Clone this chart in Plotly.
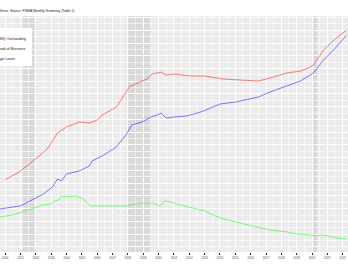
import plotly.graph_objects as go

# ---- data ($ billions) ----
total_dates = ["2000-01","2000-02","2000-12","2001-11","2002-10","2003-06","2004-01","2004-11",
               "2005-07","2006-01","2006-05","2007-04","2007-09","2008-02","2008-10","2009-04",
               "2009-08","2010-03","2010-07","2011-01","2012-02","2013-01","2014-04","2015-05",
               "2016-07","2017-07","2018-05","2019-04","2019-10","2020-02","2020-10","2021-08","2022-04"]
total_vals = [1313,1333,1470,1686,1921,2234,2352,2450,2430,2489,2587,2744,2940,3136,3234,3293,
              3391,3430,3371,3391,3352,3352,3293,3273,3254,3332,3410,3450,3508,3567,3861,4096,4253]

mbs_dates = ["1999-06","1999-09","2001-01","2001-11","2002-07","2003-02","2003-06","2003-09","2004-01",
             "2004-11","2005-07","2005-09","2006-05","2007-04","2007-12","2008-04","2008-12","2009-07",
             "2009-12","2010-03","2010-07","2011-01","2011-11","2012-10","2014-01","2015-01","2016-07",
             "2017-04","2018-05","2019-04","2020-02","2020-10","2021-08","2022-04"]
mbs_vals = [725,745,804,941,1039,1176,1333,1294,1431,1490,1588,1686,1784,1960,2215,2391,2450,2548,
            2587,2626,2528,2548,2568,2646,2803,2842,2940,3038,3156,3254,3410,3665,3920,4155]

loan_dates = ["1999-06","1999-09","2000-07","2001-04","2001-11","2002-07","2003-01","2003-04","2003-07",
              "2003-09","2004-01","2004-09","2005-02","2005-08","2006-05","2007-04","2008-01","2008-09",
              "2009-08","2010-02","2010-06","2011-01","2011-09","2013-01","2013-11","2015-01","2016-03",
              "2017-04","2018-05","2019-01","2019-12","2020-04","2020-09","2021-02","2021-08","2022-04"]
loan_vals = [568,588,627,706,764,823,843,902,921,1000,980,1000,941,804,804,804,804,862,862,804,902,
             862,804,706,588,490,412,333,294,255,235,216,235,216,176,157]

legend_labels = ["Fannie Mae Mortgage-Backed Securities (MBS) Outstanding",
                 "Fannie Mae Total Book of Business",
                 "Fannie Mae Portfolio: Mortgage Loans"]
recessions = [("2001-03-01","2001-11-30"),("2007-12-01","2009-06-30"),("2020-02-01","2020-04-30")]
title_text = "Fannie Mae Book of Business, $ Millions; Source: FNMA Monthly Summary (Table 1)"

fig = go.Figure()
fig.add_trace(go.Scatter(x=mbs_dates, y=mbs_vals, mode="lines",
                         line=dict(color="rgba(0,0,255,0.5)", width=1), name=legend_labels[0]))
fig.add_trace(go.Scatter(x=total_dates, y=total_vals, mode="lines",
                         line=dict(color="rgba(255,0,0,0.5)", width=1), name=legend_labels[1]))
fig.add_trace(go.Scatter(x=loan_dates, y=loan_vals, mode="lines",
                         line=dict(color="rgba(0,255,0,0.5)", width=1), name=legend_labels[2]))

for a, b in recessions:
    fig.add_shape(type="rect", xref="x", yref="paper", x0=a, x1=b, y0=0, y1=1,
                  fillcolor="rgba(128,128,128,0.17)", line=dict(width=0), layer="between")

# manual legend (left part cut off as in the reference)
fig.add_shape(type="rect", xref="paper", yref="paper", x0=-0.3, x1=32/348,
              y0=(252-66)/236, y1=(252-28)/236, fillcolor="white", line=dict(width=0), layer="above")
for i, lab in enumerate(legend_labels):
    fig.add_annotation(xref="paper", yref="paper", x=[28, 27, 17][i]/348, y=(252-[39, 49, 59][i])/236,
                       text=lab, showarrow=False, xanchor="right", yanchor="middle",
                       font=dict(size=3.6, color="#1a1a1a", family="Liberation Sans"))

fig.add_annotation(xref="paper", yref="paper", x=76/348, y=1, yshift=5, text=title_text,
                   showarrow=False, xanchor="right", yanchor="middle",
                   font=dict(size=3.4, color="#1a1a1a", family="Liberation Sans"))

fig.update_layout(
    width=348, height=268, margin=dict(l=0, r=0, t=16, b=16),
    paper_bgcolor="white", plot_bgcolor="#EBEBEB", showlegend=False,
    xaxis=dict(range=["1999-09-01", "2022-05-07"], tick0="2000-01-01", dtick="M12", tickformat="%Y",
               showgrid=True, gridcolor="white", gridwidth=0.8, zeroline=False,
               ticks="outside", ticklen=2, tickwidth=0.5, tickcolor="#333333",
               tickfont=dict(size=3, color="#4d4d4d", family="Liberation Sans"),
               minor=dict(dtick="M6", showgrid=True, gridcolor="rgba(255,255,255,0.6)", gridwidth=0.5)),
    yaxis=dict(range=[-100, 4530], dtick=250, tick0=0, showgrid=True, gridcolor="white", gridwidth=0.8,
               zeroline=False, showticklabels=False,
               minor=dict(dtick=125, showgrid=True, gridcolor="rgba(255,255,255,0.6)", gridwidth=0.5)),
)
fig.write_html("out.html")
